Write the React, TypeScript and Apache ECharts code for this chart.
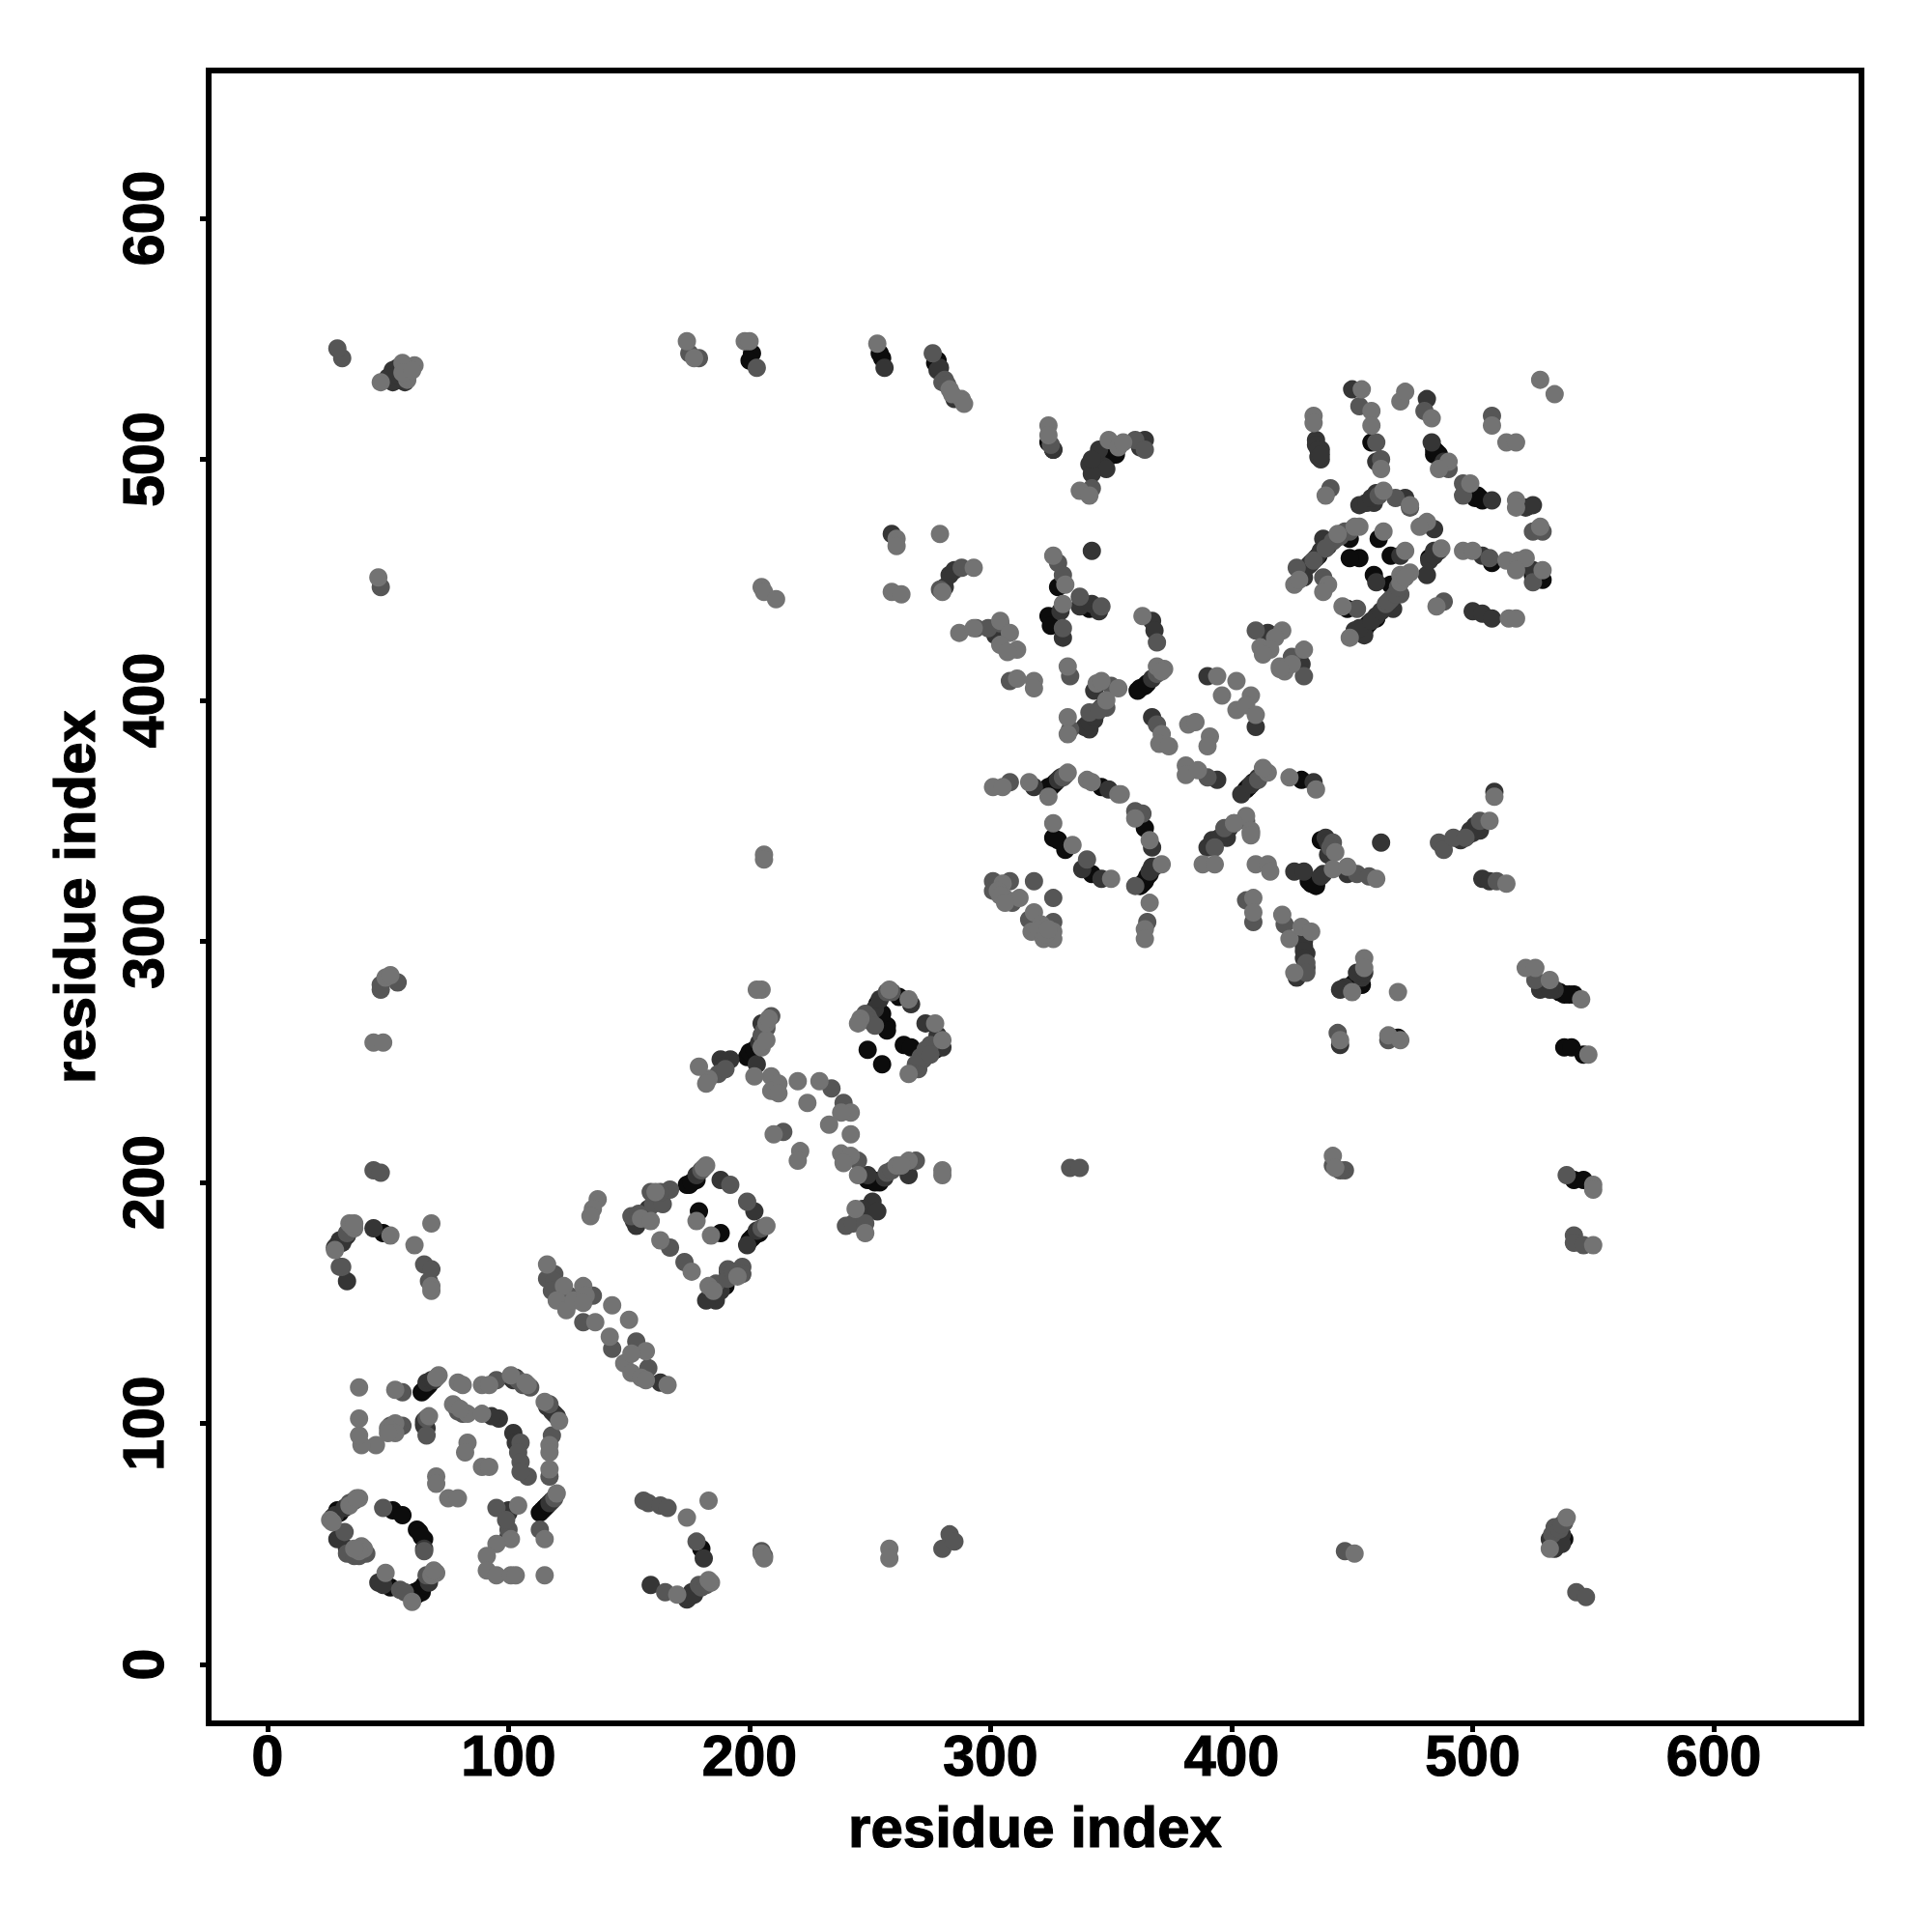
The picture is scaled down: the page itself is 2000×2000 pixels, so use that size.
import React, { useEffect, useRef } from "react";
import * as echarts from "echarts";

const tickValues = [0, 100, 200, 300, 400, 500, 600];
const axisTitle = "residue index";

const blackPoints = [[64,113],[66,115],[115,65],[113,63],[29,64],[27,61],[52,64],[56,62],[62,56],[65,52],[51,32],[62,29],[64,30],[180,48],[175,199],[178,201],[204,179],[201,177],[190,159],[179,188],[188,179],[190,157],[201,253],[199,252],[253,274],[262,277],[257,265],[257,263],[277,255],[264,257],[267,256],[249,255],[255,249],[255,270],[251,201],[254,200],[48,179],[201,544],[200,541],[255,542],[254,544],[278,541],[349,501],[352,502],[326,504],[324,507],[324,435],[325,431],[341,438],[328,447],[361,404],[364,406],[324,364],[326,365],[346,364],[364,347],[326,343],[328,342],[331,338],[342,328],[366,328],[364,325],[362,323],[406,363],[429,367],[437,342],[434,325],[435,323],[454,282],[450,282],[458,507],[485,503],[484,502],[500,485],[503,484],[482,459],[456,431],[448,438],[461,467],[466,460],[453,459],[449,459],[459,452],[466,448],[436,460],[449,467],[508,457],[529,450],[538,278],[542,278],[538,256],[541,256],[546,253],[542,201],[546,201],[469,260],[538,52],
[65,114],[67,116],[30,63],[63,55],[64,53],[61,30],[63,31],[65,33],[455,429],[457,432],[460,434],[362,405],[365,407],[325,364],[327,366],[363,324],[365,327],[407,364],[409,366],[451,283],[453,284],[536,279],[540,278],[200,254],[202,255],[174,199],[176,200],[200,176],[202,178],[249,201],[252,200],[114,64],[116,66],[536,54],[277,540],[278,539],[432,325],[433,324],[435,324],[484,504],[486,502],[501,484],[502,485],[504,483],[525,452],[527,451]];

const darkPoints = [[66,117],[68,118],[119,104],[118,68],[65,100],[66,98],[102,96],[96,102],[93,103],[33,48],[29,52],[65,48],[46,34],[67,34],[100,64],[159,33],[174,27],[176,30],[181,44],[163,117],[103,119],[33,178],[31,175],[28,173],[33,159],[44,181],[153,182],[158,189],[152,184],[188,201],[202,188],[199,174],[185,153],[186,151],[182,151],[191,163],[205,266],[203,249],[192,251],[188,251],[189,248],[249,203],[266,203],[251,192],[247,189],[253,188],[267,274],[273,266],[280,256],[52,532],[52,537],[54,538],[55,533],[57,532],[256,538],[278,537],[285,525],[326,504],[341,498],[344,500],[347,497],[345,504],[348,496],[342,494],[342,500],[364,508],[362,505],[435,508],[437,504],[437,500],[450,529],[460,499],[481,525],[483,507],[508,483],[522,480],[525,481],[484,471],[453,481],[459,482],[472,484],[484,462],[481,452],[467,438],[460,435],[451,429],[455,427],[438,467],[433,457],[430,454],[430,451],[500,437],[504,436],[508,434],[504,460],[525,454],[460,449],[470,460],[429,415],[343,404],[343,392],[340,390],[341,388],[390,410],[410,389],[367,393],[394,367],[318,364],[328,367],[349,363],[367,339],[367,331],[338,330],[346,326],[404,361],[408,365],[434,366],[398,343],[392,342],[390,339],[408,345],[440,336],[426,329],[430,329],[438,328],[448,328],[462,341],[430,300],[431,295],[427,285],[454,285],[452,287],[447,281],[445,280],[528,280],[534,280],[329,437],[330,426],[337,439],[342,440],[345,437],[367,433],[368,429],[342,462],[259,469],[281,447],[283,452],[285,454],[302,427],[445,257],[415,428],[504,326],[507,325],[495,342],[500,345],[501,348],[509,362],[534,52],[534,48],[532,52],[537,54],
[69,118],[28,62],[32,65],[47,34],[48,33],[432,456],[435,459],[437,462],[440,464],[443,467],[453,430],[458,433],[462,437],[456,482],[458,484],[460,486],[482,458],[484,460],[486,462],[367,409],[329,368],[411,368],[413,370],[368,331],[366,329],[339,389],[341,391],[343,393],[344,395],[346,397],[393,341],[395,343],[397,345],[399,347],[430,298],[430,296],[430,293],[431,289],[455,287],[530,281],[532,280],[252,272],[254,276],[277,258],[278,261],[204,258],[178,203],[203,180],[188,155],[256,202],[117,67],[116,107],[118,105],[120,103],[101,119],[102,118],[65,101],[65,99],[100,53],[100,63],[103,92],[175,28],[177,29],[535,50],[537,50],[29,174],[30,176],[32,177],[50,534],[54,535],[279,538],[437,327],[439,343],[440,341],[498,344],[499,346],[502,347],[503,346],[435,506],[436,504],[436,501],[437,502],[488,499]];

const midPoints = [[56,113],[79,106],[95,118],[109,115],[118,95],[117,78],[105,92],[108,78],[56,99],[66,95],[32,55],[41,46],[48,65],[55,31],[66,37],[95,65],[100,56],[113,56],[156,68],[158,67],[163,66],[166,65],[178,51],[165,30],[179,33],[30,165],[31,165],[65,166],[67,159],[68,164],[119,162],[116,160],[119,159],[118,155],[125,153],[135,153],[153,134],[158,123],[143,131],[131,142],[151,186],[154,187],[160,191],[164,191],[159,196],[167,197],[163,196],[167,173],[173,167],[197,165],[197,162],[192,199],[199,192],[191,164],[209,269],[207,264],[187,245],[190,247],[234,239],[239,233],[214,221],[245,209],[257,204],[269,209],[240,182],[243,183],[248,183],[257,279],[259,279],[249,269],[272,251],[270,247],[275,257],[31,542],[29,546],[175,544],[179,542],[203,538],[276,544],[280,532],[325,506],[342,488],[328,457],[330,452],[337,443],[346,439],[330,430],[360,508],[364,504],[369,424],[441,488],[453,522],[460,507],[462,500],[480,520],[490,496],[496,490],[496,485],[508,518],[525,470],[529,470],[507,459],[525,449],[488,441],[461,485],[449,470],[442,466],[427,455],[438,451],[470,444],[466,442],[464,440],[452,438],[410,429],[425,418],[308,408],[333,410],[350,406],[348,397],[341,395],[333,388],[369,390],[390,368],[308,366],[330,368],[360,354],[363,353],[360,323],[365,308],[340,334],[301,325],[301,321],[308,325],[309,316],[318,325],[326,318],[316,309],[326,308],[411,367],[406,350],[397,347],[393,339],[442,341],[452,328],[457,327],[406,317],[409,308],[422,307],[431,291],[431,287],[444,262],[465,259],[442,207],[447,205],[445,205],[539,203],[542,178],[542,175],[546,174],[44,205],[47,204],[47,282],[54,283],[47,280],[447,47],[280,48],[283,54],[285,51],[205,47],[206,45],[333,206],[337,206],[543,30],[547,28],[486,341],[488,338],[492,343],[497,343],[503,350],[510,325],[304,432],[279,446],[288,455],[294,430],[299,430],[526,284],[534,57],[538,59],[430,410],
[47,447],[34,67],[36,68],[33,46],[36,45],[38,45],[57,30],[65,47],[434,458],[439,463],[445,468],[447,470],[465,441],[468,444],[469,447],[468,484],[474,480],[369,411],[331,369],[345,396],[401,349],[248,270],[250,267],[252,265],[269,249],[271,252],[273,255],[275,253],[205,261],[206,263],[180,205],[205,181],[186,158],[191,160],[193,163],[259,205],[119,69],[117,108],[104,118],[106,116],[78,107],[79,105],[81,104],[66,102],[51,99],[54,98],[99,60],[104,88],[105,84],[105,80],[180,32],[182,33],[533,54],[536,56],[537,58],[33,179],[281,533],[282,531],[441,339]];

const lightPoints = [[38,115],[53,114],[71,120],[79,117],[81,116],[89,116],[92,116],[101,120],[107,117],[115,109],[121,101],[117,91],[117,88],[117,81],[120,71],[115,52],[115,37],[77,108],[83,104],[89,104],[67,103],[53,100],[50,98],[53,96],[45,91],[39,91],[38,95],[38,102],[83,92],[82,88],[89,82],[92,82],[70,78],[70,75],[75,69],[79,69],[38,69],[34,66],[26,60],[39,49],[49,38],[60,26],[70,38],[104,66],[101,52],[95,50],[91,45],[91,39],[95,37],[101,37],[103,37],[174,61],[183,68],[184,34],[170,29],[205,46],[206,44],[34,183],[36,181],[61,174],[51,178],[68,183],[68,157],[68,155],[116,166],[123,157],[120,151],[124,147],[127,151],[131,157],[132,153],[131,150],[143,149],[150,143],[136,142],[142,136],[157,130],[148,125],[151,129],[151,121],[155,119],[157,118],[166,116],[137,193],[135,189],[134,186],[155,185],[159,184],[161,196],[182,207],[207,182],[183,157],[185,155],[178,184],[184,178],[163,176],[176,163],[195,161],[205,256],[207,259],[209,244],[212,241],[209,238],[212,237],[202,244],[205,280],[203,280],[183,243],[179,248],[182,241],[220,242],[229,242],[224,233],[242,229],[238,229],[233,224],[242,220],[210,220],[221,213],[220,209],[238,212],[242,211],[239,208],[245,203],[261,207],[266,209],[280,205],[280,203],[244,189],[248,179],[266,276],[246,268],[245,266],[277,266],[280,259],[266,245],[47,532],[58,533],[61,539],[56,540],[174,549],[177,542],[198,549],[200,549],[253,548],[283,529],[288,525],[289,523],[324,514],[324,510],[337,487],[341,485],[349,508],[353,505],[355,507],[434,518],[434,515],[454,529],[458,520],[458,514],[462,496],[470,524],[472,528],[483,517],[490,499],[486,496],[499,490],[518,483],[518,480],[528,533],[534,527],[508,514],[514,507],[518,507],[528,472],[496,462],[500,462],[514,458],[519,458],[522,459],[518,454],[529,454],[485,439],[515,434],[518,434],[439,485],[463,487],[474,481],[481,474],[478,472],[487,463],[474,453],[470,452],[449,426],[446,439],[463,470],[472,462],[453,472],[444,469],[426,448],[440,448],[438,445],[421,429],[418,426],[412,422],[416,421],[413,419],[430,421],[420,414],[311,409],[318,408],[318,405],[332,414],[344,407],[346,408],[353,405],[348,400],[332,393],[332,386],[372,413],[369,414],[394,410],[402,408],[396,402],[408,402],[402,396],[406,398],[410,394],[422,412],[425,415],[420,413],[371,386],[370,382],[374,381],[382,390],[385,391],[391,385],[390,381],[381,373],[381,369],[386,371],[301,364],[305,364],[316,366],[332,370],[324,360],[340,367],[342,366],[353,361],[354,361],[360,351],[366,342],[371,332],[366,316],[364,305],[364,301],[326,349],[334,340],[350,326],[305,324],[306,318],[312,318],[318,312],[317,304],[321,307],[326,304],[322,301],[326,301],[415,370],[413,372],[424,368],[435,363],[406,352],[408,346],[408,344],[401,349],[388,332],[393,332],[410,332],[415,332],[416,329],[443,337],[442,330],[448,331],[460,326],[409,318],[409,312],[421,311],[424,301],[429,306],[433,304],[426,287],[455,293],[455,289],[450,279],[469,279],[445,259],[465,261],[470,259],[442,211],[522,289],[526,289],[532,284],[545,276],[548,253],[550,199],[550,197],[550,174],[206,336],[206,334],[205,447],[206,445],[211,442],[46,451],[44,258],[48,258],[49,285],[51,286],[451,46],[258,48],[258,44],[443,206],[532,48],[539,61],[507,350],[509,360],[514,324],[261,467],[261,464],[279,469],[259,445],[263,444],[280,445],[293,455],[287,428],[293,430],[311,421],[304,433],[308,428],[304,423],[307,420],[326,460],[331,448],[330,440],[363,435],
[70,119],[37,69],[27,59],[40,48],[38,47],[36,48],[68,37],[69,39],[451,472],[428,450],[470,449],[472,451],[371,412],[258,280],[207,266],[208,268],[181,206],[263,207],[108,116],[80,106],[50,96],[183,35],[35,182],[36,183],[28,172],[56,536],[60,537],[284,527],[303,321],[304,319],[306,316],[320,305],[323,303],[324,305]];

const FONT = "'Liberation Sans', Arial, sans-serif";
const boldText = { fontFamily: FONT, fontWeight: "bold", color: "#000", textBorderColor: "#000", textBorderWidth: 1.2 };

const layer = (data: number[][], color: string) => ({
  type: "scatter",
  data,
  symbol: "circle",
  symbolSize: 19,
  itemStyle: { color, opacity: 1 },
  silent: true,
});

const axisCommon = {
  type: "value",
  min: -24.4,
  max: 661.3,
  name: axisTitle,
  nameLocation: "middle",
  nameTextStyle: { ...boldText, fontSize: 60 },
  splitLine: { show: false },
  axisLine: { show: false, onZero: false },
  axisTick: { show: true, length: 9, lineStyle: { color: "#000", width: 5 }, customValues: tickValues },
};

export default function App() {
  const ref = useRef<HTMLDivElement>(null);
  useEffect(() => {
    const chart = echarts.init(ref.current!, undefined, { renderer: "svg", width: 2000, height: 2000 });
    chart.setOption({
      animation: false,
      backgroundColor: "#fff",
      grid: { left: 216, top: 73, width: 1711, height: 1711, show: true, borderColor: "#000", borderWidth: 6, backgroundColor: "transparent" },
      xAxis: {
        ...axisCommon,
        nameGap: 77,
        axisLabel: { ...boldText, customValues: tickValues, fontSize: 59, margin: 4 },
      },
      yAxis: {
        ...axisCommon,
        nameGap: 109,
        nameRotate: 90,
        axisLabel: { ...boldText, customValues: tickValues, rotate: 90, fontSize: 59, margin: 38, verticalAlign: "bottom", align: "center" },
      },
      series: [
        layer(blackPoints, "#0c0c0c"),
        layer(darkPoints, "#353535"),
        layer(midPoints, "#565656"),
        layer(lightPoints, "#737373"),
      ],
    });
    return () => chart.dispose();
  }, []);
  return <div ref={ref} style={{ position: "absolute", left: 0, top: 0, width: 2000, height: 2000 }} />;
}
